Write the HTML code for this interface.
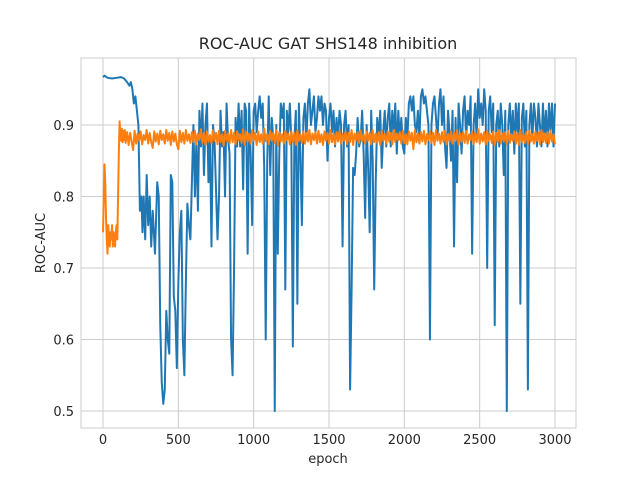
<!DOCTYPE html>
<html><head><meta charset="utf-8"><style>
html,body{margin:0;padding:0;background:#fff;}
svg{display:block;font-family:"DejaVu Sans","Liberation Sans",sans-serif;}
</style></head><body>
<svg id="chart" width="640" height="480" viewBox="0 0 640 480">
<rect x="0" y="0" width="640" height="480" fill="#fff"/>
<g id="grid"></g>
<g id="series"></g>
<rect x="81" y="58" width="495" height="370" fill="none" stroke="#cccccc" stroke-width="1"/>
<g id="ticks"></g>
<text x="328" y="49" text-anchor="middle" font-size="16" fill="#262626">ROC-AUC GAT SHS148 inhibition</text>
<text x="328" y="463" text-anchor="middle" font-size="13" fill="#262626">epoch</text>
<text x="45" y="243" text-anchor="middle" font-size="13" fill="#262626" transform="rotate(-90 45 243)">ROC-AUC</text>
</svg>
<script>
const xTicks = [0, 500, 1000, 1500, 2000, 2500, 3000];
const yTicks = [0.5, 0.6, 0.7, 0.8, 0.9];
const yTickLabels = ["0.5", "0.6", "0.7", "0.8", "0.9"];

const blueEpochs = [0,10,30,60,90,120,140,160,175,185,195,205,215,225,235,245,255,262,270,280,290,300,310,320,330,345,360,370,380,390,400,410,420,430,440,450,460,470,480,490,500,510,520,530,540,550,560,570,580,590,600,610,620,630,640,650,660,670,680,690,700,710,720,730,740,750,760,770,780,790,800,810,820,830,840,850,860,870,880,890,900,910,920,930,940,950,960,970,980,990,1000,1010,1020,1030,1040,1050,1060,1070,1080,1090,1100,1110,1120,1130,1140,1150,1160,1170,1180,1190,1200,1210,1220,1230,1240,1250,1260,1270,1280,1290,1300,1310,1320,1330,1340,1350,1360,1370,1380,1390,1400,1410,1420,1430,1440,1450,1460,1470,1480,1490,1500,1510,1520,1530,1540,1550,1560,1570,1580,1590,1600,1610,1620,1630,1640,1650,1660,1670,1680,1690,1700,1710,1720,1730,1740,1750,1760,1770,1780,1790,1800,1810,1820,1830,1840,1850,1860,1870,1880,1890,1900,1910,1920,1930,1940,1950,1960,1970,1980,1990,2000,2010,2020,2030,2040,2050,2060,2070,2080,2090,2100,2110,2120,2130,2140,2150,2160,2170,2180,2190,2200,2210,2220,2230,2240,2250,2260,2270,2280,2290,2300,2310,2320,2330,2340,2350,2360,2370,2380,2390,2400,2410,2420,2430,2440,2450,2460,2470,2480,2490,2500,2510,2520,2530,2540,2550,2560,2570,2580,2590,2600,2610,2620,2630,2640,2650,2660,2670,2680,2690,2700,2710,2720,2730,2740,2750,2760,2770,2780,2790,2800,2810,2820,2830,2840,2850,2860,2870,2880,2890,2900,2910,2920,2930,2940,2950,2960,2970,2980,2990,3000];
const blueValues = [.967,.969,.966,.965,.966,.967,.965,.96,.955,.96,.95,.93,.94,.92,.9,.78,.8,.75,.8,.74,.83,.76,.8,.73,.78,.72,.82,.8,.62,.54,.51,.53,.64,.6,.58,.83,.82,.66,.64,.56,.68,.75,.78,.6,.55,.68,.79,.76,.74,.82,.9,.8,.88,.78,.92,.87,.93,.83,.9,.93,.82,.88,.73,.9,.88,.81,.74,.8,.92,.87,.89,.8,.93,.88,.86,.6,.55,.7,.91,.87,.93,.87,.92,.81,.93,.92,.72,.93,.86,.76,.92,.93,.89,.92,.94,.91,.93,.84,.6,.85,.94,.83,.91,.88,.5,.9,.72,.86,.93,.91,.93,.67,.92,.89,.93,.88,.59,.88,.92,.65,.93,.86,.76,.91,.93,.88,.93,.95,.9,.92,.94,.89,.91,.94,.92,.94,.9,.93,.92,.85,.91,.93,.89,.92,.87,.91,.88,.92,.9,.73,.9,.92,.87,.9,.53,.67,.84,.83,.86,.91,.87,.88,.92,.86,.77,.9,.84,.75,.92,.85,.67,.82,.91,.88,.92,.84,.89,.92,.87,.91,.93,.87,.92,.89,.93,.86,.92,.88,.91,.87,.86,.91,.88,.93,.94,.92,.94,.9,.89,.92,.88,.94,.95,.93,.94,.92,.9,.6,.9,.93,.94,.91,.88,.93,.95,.9,.94,.87,.84,.92,.89,.85,.92,.73,.91,.82,.93,.9,.86,.92,.94,.88,.92,.9,.94,.72,.9,.93,.88,.95,.91,.93,.9,.95,.92,.7,.92,.94,.89,.93,.62,.9,.92,.87,.93,.9,.83,.92,.5,.9,.93,.88,.92,.86,.93,.89,.93,.65,.91,.93,.87,.92,.53,.9,.93,.88,.93,.91,.87,.93,.9,.87,.93,.88,.92,.87,.93,.89,.93,.87,.93];

const orangeEpochs = [0,5,10,15,20,25,30,35,40,45,50,55,60,65,70,75,80,85,90,95,100,105,110,115,120,125,130,135,140,145,150,160,170,180,190,200,210,220,230,240,250,260,270,280,290,300,310,320,330,340,350,360,370,380,390,400,410,420,430,440,450,460,470,480,490,500,510,520,530,540,550,560,570,580,590,600,610,620,630,640,650,660,670,680,690,700,710,720,730,740,750,760,770,780,790,800,810,820,830,840,850,860,870,880,890,900,910,920,930,940,950,960,970,980,990,1000,1010,1020,1030,1040,1050,1060,1070,1080,1090,1100,1110,1120,1130,1140,1150,1160,1170,1180,1190,1200,1210,1220,1230,1240,1250,1260,1270,1280,1290,1300,1310,1320,1330,1340,1350,1360,1370,1380,1390,1400,1410,1420,1430,1440,1450,1460,1470,1480,1490,1500,1510,1520,1530,1540,1550,1560,1570,1580,1590,1600,1610,1620,1630,1640,1650,1660,1670,1680,1690,1700,1710,1720,1730,1740,1750,1760,1770,1780,1790,1800,1810,1820,1830,1840,1850,1860,1870,1880,1890,1900,1910,1920,1930,1940,1950,1960,1970,1980,1990,2000,2010,2020,2030,2040,2050,2060,2070,2080,2090,2100,2110,2120,2130,2140,2150,2160,2170,2180,2190,2200,2210,2220,2230,2240,2250,2260,2270,2280,2290,2300,2310,2320,2330,2340,2350,2360,2370,2380,2390,2400,2410,2420,2430,2440,2450,2460,2470,2480,2490,2500,2510,2520,2530,2540,2550,2560,2570,2580,2590,2600,2610,2620,2630,2640,2650,2660,2670,2680,2690,2700,2710,2720,2730,2740,2750,2760,2770,2780,2790,2800,2810,2820,2830,2840,2850,2860,2870,2880,2890,2900,2910,2920,2930,2940,2950,2960,2970,2980,2990,3000];
const orangeValues = [.75,.8,.845,.82,.77,.74,.72,.76,.74,.73,.75,.74,.76,.73,.75,.74,.73,.75,.76,.74,.8,.86,.905,.89,.878,.895,.876,.892,.879,.893,.875,.89,.872,.889,.877,.865,.892,.874,.888,.878,.891,.873,.886,.879,.893,.874,.889,.876,.868,.891,.877,.888,.873,.892,.879,.887,.874,.893,.878,.889,.872,.891,.877,.888,.873,.866,.892,.876,.889,.874,.893,.878,.887,.875,.89,.876,.892,.873,.888,.879,.894,.875,.889,.872,.891,.877,.886,.874,.893,.878,.889,.873,.892,.876,.887,.871,.892,.878,.888,.874,.893,.876,.889,.873,.891,.879,.887,.875,.894,.872,.89,.877,.888,.874,.893,.878,.889,.872,.891,.876,.887,.874,.895,.877,.888,.873,.892,.878,.889,.875,.893,.871,.89,.877,.887,.874,.892,.879,.888,.873,.891,.876,.889,.872,.893,.878,.887,.875,.891,.874,.889,.877,.893,.873,.888,.879,.89,.874,.892,.876,.887,.872,.891,.878,.889,.874,.893,.876,.888,.873,.89,.877,.892,.874,.887,.878,.891,.873,.889,.876,.893,.872,.888,.879,.89,.875,.892,.877,.887,.874,.891,.878,.889,.873,.893,.876,.888,.875,.89,.872,.892,.878,.887,.874,.891,.877,.889,.873,.893,.876,.888,.879,.89,.874,.892,.875,.887,.873,.891,.878,.889,.866,.893,.876,.888,.874,.89,.877,.892,.873,.887,.879,.891,.875,.889,.872,.893,.878,.888,.874,.89,.876,.892,.873,.887,.877,.891,.874,.889,.878,.893,.872,.888,.876,.89,.875,.892,.874,.887,.879,.891,.873,.889,.876,.894,.874,.888,.877,.89,.873,.892,.878,.887,.875,.891,.872,.889,.876,.893,.874,.888,.877,.89,.873,.892,.875,.887,.878,.891,.874,.889,.872,.893,.876,.888,.875,.89,.873,.892,.877,.887,.874,.891,.878,.889,.873,.893,.876,.888,.875,.89,.874,.892,.877,.887,.873,.891,.878,.889,.875,.893,.874,.888,.876,.885];

const X0 = 103, XPER = 452 / 3000;
function xs(e){ return X0 + e * XPER; }
function ys(v){ return 125 + (0.9 - v) * 715; }

const NS = "http://www.w3.org/2000/svg";
const grid = document.getElementById('grid');
const ticks = document.getElementById('ticks');
xTicks.forEach(function(t){
  const l = document.createElementNS(NS,'line');
  l.setAttribute('x1', xs(t)); l.setAttribute('x2', xs(t));
  l.setAttribute('y1', 58); l.setAttribute('y2', 428);
  l.setAttribute('stroke', '#cccccc'); l.setAttribute('stroke-width', '1');
  
  
  grid.appendChild(l);
  const tx = document.createElementNS(NS,'text');
  tx.setAttribute('x', xs(t)); tx.setAttribute('y', 444);
  tx.setAttribute('text-anchor', 'middle'); tx.setAttribute('font-size', '13'); tx.setAttribute('fill', '#262626');
  tx.textContent = String(t);
  
  
  ticks.appendChild(tx);
});
yTicks.forEach(function(t, i){
  const l = document.createElementNS(NS,'line');
  l.setAttribute('x1', 81); l.setAttribute('x2', 576);
  l.setAttribute('y1', ys(t)); l.setAttribute('y2', ys(t));
  l.setAttribute('stroke', '#cccccc'); l.setAttribute('stroke-width', '1');
  
  
  grid.appendChild(l);
  const tx = document.createElementNS(NS,'text');
  tx.setAttribute('x', 74); tx.setAttribute('y', ys(t) + 5);
  tx.setAttribute('text-anchor', 'end'); tx.setAttribute('font-size', '13'); tx.setAttribute('fill', '#262626');
  tx.textContent = yTickLabels[i];
  
  
  ticks.appendChild(tx);
});

const series = document.getElementById('series');
function drawLine(ep, vals, color, name){
  const p = document.createElementNS(NS,'path');
  let d = '';
  for (let i = 0; i < vals.length; i++) d += (i ? 'L' : 'M') + xs(ep[i]).toFixed(2) + ' ' + ys(vals[i]).toFixed(2);
  p.setAttribute('d', d);
  p.setAttribute('fill', 'none'); p.setAttribute('stroke', color);
  p.setAttribute('stroke-width', '2'); p.setAttribute('stroke-linejoin', 'round');
  
  
  series.appendChild(p);
}
drawLine(blueEpochs, blueValues, '#1f77b4', 'blue-series-line');
drawLine(orangeEpochs, orangeValues, '#ff7f0e', 'orange-series-line');
</script>
</body></html>
